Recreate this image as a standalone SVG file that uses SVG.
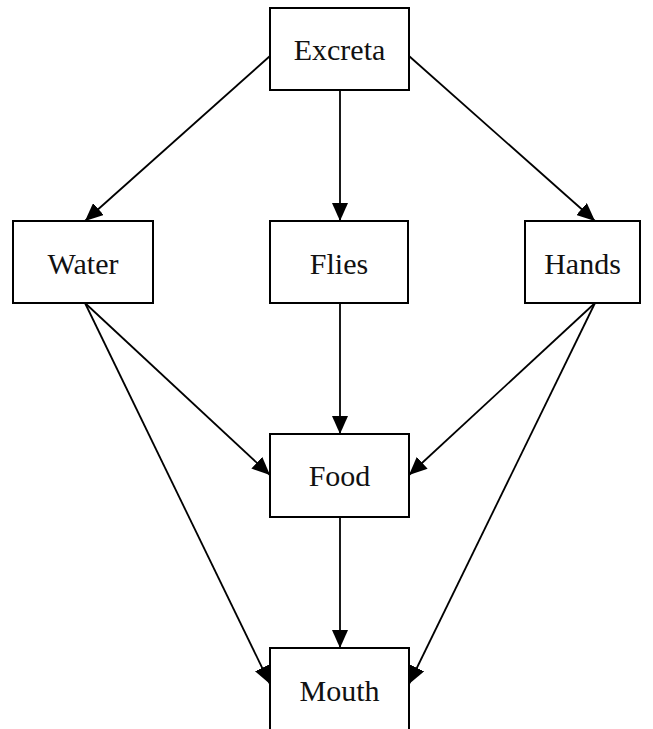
<svg xmlns="http://www.w3.org/2000/svg" width="653" height="729" viewBox="0 0 653 729">
<style>
.box{fill:#ffffff;stroke:#000;stroke-width:2}
.lbl{font-family:"Liberation Serif","Times New Roman",serif;font-size:30px;fill:#111;text-anchor:middle}
.edge{stroke:#000;stroke-width:1.8;fill:none;marker-end:url(#ah)}
</style>
<defs>
<marker id="ah" markerUnits="userSpaceOnUse" markerWidth="20" markerHeight="16" refX="18" refY="8" orient="auto">
<path d="M0,0 L18,8 L0,16 Z" fill="#000"/>
</marker>
</defs>
<rect width="653" height="729" fill="#ffffff"/>
<g id="connectors">
<line class="edge" x1="270" y1="56" x2="85" y2="221"/>
<line class="edge" x1="340" y1="90" x2="340" y2="221"/>
<line class="edge" x1="409" y1="56" x2="595" y2="221"/>
<line class="edge" x1="85" y1="303" x2="270" y2="475"/>
<line class="edge" x1="85" y1="303" x2="270" y2="684"/>
<line class="edge" x1="340" y1="303" x2="340" y2="434"/>
<line class="edge" x1="595" y1="303" x2="409" y2="475"/>
<line class="edge" x1="595" y1="303" x2="409" y2="684"/>
<line class="edge" x1="340" y1="517" x2="340" y2="648"/>
</g>
<g id="excreta"><rect class="box" x="270" y="8" width="139" height="82"/><text class="lbl" x="339.5" y="60">Excreta</text></g>
<g id="water"><rect class="box" x="13" y="221" width="140" height="82"/><text class="lbl" x="83" y="274">Water</text></g>
<g id="flies"><rect class="box" x="270" y="221" width="138" height="82"/><text class="lbl" x="339" y="274">Flies</text></g>
<g id="hands"><rect class="box" x="525" y="221" width="115" height="82"/><text class="lbl" x="582.5" y="274">Hands</text></g>
<g id="food"><rect class="box" x="270" y="434" width="139" height="83"/><text class="lbl" x="339.5" y="486">Food</text></g>
<g id="mouth"><rect class="box" x="270" y="648" width="139" height="90"/><text class="lbl" x="339.5" y="701">Mouth</text></g>
</svg>
